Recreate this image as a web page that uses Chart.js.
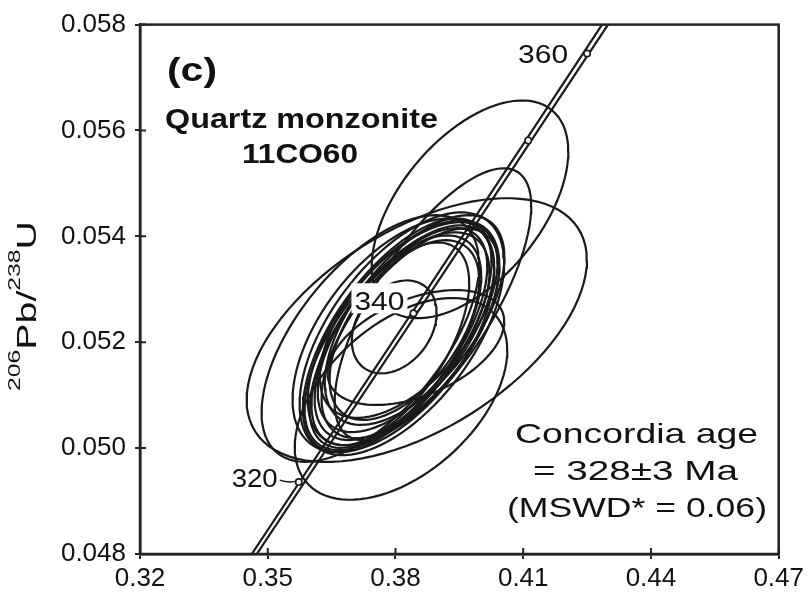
<!DOCTYPE html>
<html>
<head>
<meta charset="utf-8">
<script src="https://cdn.jsdelivr.net/npm/chart.js@4.4.1/dist/chart.umd.min.js"></script>
<style>
  html, body { margin: 0; padding: 0; background: #fff; }
</style>
</head>
<body>
<canvas id="concordia" width="808" height="597"></canvas>
<script>
// axis ticks
const xTicks = [0.32, 0.35, 0.38, 0.41, 0.44, 0.47];
const yTicks = [0.048, 0.050, 0.052, 0.054, 0.056, 0.058];

// error ellipses (207Pb/235U, 206Pb/238U): centre, half widths, correlation
const ellX   = [0.3975, 0.3850, 0.3813, 0.3888, 0.3797, 0.3741, 0.3795, 0.3848, 0.3815, 0.3819, 0.3821, 0.3819, 0.3794, 0.3845, 0.3788, 0.3831, 0.3807, 0.3821, 0.3804, 0.3835];
const ellY   = [0.05451, 0.05223, 0.05093, 0.05272, 0.05229, 0.05207, 0.05213, 0.05190, 0.05216, 0.05218, 0.05218, 0.05219, 0.05199, 0.05242, 0.05197, 0.05242, 0.05208, 0.05223, 0.05213, 0.05217];
const ellSx  = [0.02309, 0.03996, 0.02496, 0.02309, 0.00996, 0.02555, 0.02367, 0.02074, 0.02402, 0.02250, 0.02109, 0.02016, 0.02074, 0.02109, 0.01852, 0.02086, 0.02086, 0.01758, 0.02215, 0.02086];
const ellSy  = [0.002057, 0.002491, 0.001906, 0.002566, 0.000877, 0.002330, 0.002208, 0.001085, 0.002293, 0.002123, 0.002028, 0.001887, 0.002028, 0.001981, 0.001915, 0.001849, 0.002076, 0.001698, 0.002208, 0.001981];
const ellRho = [0.53, 0.53, 0.48, 0.72, 0.30, 0.60, 0.55, 0.45, 0.58, 0.60, 0.62, 0.60, 0.62, 0.60, 0.60, 0.58, 0.65, 0.55, 0.63, 0.62];

// concordia band edges
const bandLowX  = [0.34625, 0.38750, 0.42852];
const bandLowY  = [0.048, 0.053, 0.058];
const bandHighX = [0.34742, 0.38875, 0.42992];
const bandHighY = [0.048, 0.053, 0.058];

// age marks on the concordia
const ageText = ['320', '340', '', '360'];
const ageX = [0.35727, 0.38422, 0.41117, 0.42500];
const ageY = [0.049358, 0.052547, 0.055811, 0.057453];

const FONT = '"Liberation Sans", Arial, Helvetica, sans-serif';
const INK = '#1a1a1a';

function ellipsePoints(i) {
  const pts = [];
  const n = 96;
  const q = Math.sqrt(1 - ellRho[i] * ellRho[i]);
  for (let k = 0; k <= n; k++) {
    const t = k / n * Math.PI * 2;
    pts.push({
      x: ellX[i] + ellSx[i] * Math.cos(t),
      y: ellY[i] + ellSy[i] * (ellRho[i] * Math.cos(t) + q * Math.sin(t))
    });
  }
  return pts;
}

const datasets = [];
datasets.push({
  data: ageX.map((x, i) => ({ x: x, y: ageY[i] })),
  showLine: false,
  pointRadius: 3.2,
  pointBackgroundColor: '#fff',
  pointBorderColor: INK,
  pointBorderWidth: 1.6,
  order: 0
});
datasets.push({
  data: bandLowX.map((x, i) => ({ x: x, y: bandLowY[i] })),
  showLine: true, pointRadius: 0, borderColor: INK, borderWidth: 2.2, order: 1
});
datasets.push({
  data: bandHighX.map((x, i) => ({ x: x, y: bandHighY[i] })),
  showLine: true, pointRadius: 0, borderColor: INK, borderWidth: 2.2, order: 1
});
for (let i = 0; i < ellX.length; i++) {
  datasets.push({
    data: ellipsePoints(i),
    showLine: true, pointRadius: 0, borderColor: INK, borderWidth: 2.2, order: 2
  });
}

// text squeezed/stretched to the width it has in the figure
function fitText(ctx, text, x, y, font, width, align) {
  ctx.save();
  ctx.font = font;
  const k = width / ctx.measureText(text).width;
  ctx.translate(x, y);
  ctx.scale(k, 1);
  ctx.textAlign = align;
  ctx.textBaseline = 'alphabetic';
  ctx.fillStyle = '#111';
  ctx.fillText(text, 0, 0);
  ctx.restore();
}

const decor = {
  id: 'decor',
  afterDatasetsDraw(chart) {
    const ctx = chart.ctx;
    const xs = chart.scales.x, ys = chart.scales.y;
    const px = ageX.map(v => xs.getPixelForValue(v));
    const py = ageY.map(v => ys.getPixelForValue(v));

    // age labels
    ctx.save();
    ctx.fillStyle = '#fff';
    ctx.fillRect(px[1] - 62, py[1] - 30, 56, 30);
    ctx.restore();
    fitText(ctx, ageText[1], px[1] - 9, py[1] - 3, '26px ' + FONT, 50, 'right');
    fitText(ctx, ageText[3], px[3] - 19, py[3] + 9, '26px ' + FONT, 50, 'right');
    fitText(ctx, ageText[0], px[0] - 21, py[0] + 5, '26px ' + FONT, 46, 'right');
    ctx.save();
    ctx.strokeStyle = INK;
    ctx.lineWidth = 1.5;
    ctx.beginPath();
    ctx.moveTo(px[0] - 19, py[0] - 2);
    ctx.quadraticCurveTo(px[0] - 10, py[0] + 1, px[0] - 2, py[0] - 1);
    ctx.stroke();
    ctx.restore();

    // panel label and sample
    fitText(ctx, '(c)', 167, 81, 'bold 33px ' + FONT, 50, 'left');
    fitText(ctx, 'Quartz monzonite', 301.5, 128, 'bold 28px ' + FONT, 273, 'center');
    fitText(ctx, '11CO60', 300, 163, 'bold 28px ' + FONT, 116, 'center');

    // result
    fitText(ctx, 'Concordia age', 636.5, 443, '28px ' + FONT, 243, 'center');
    fitText(ctx, '= 328\u00b13 Ma', 635.5, 480, '28px ' + FONT, 205, 'center');
    fitText(ctx, '(MSWD* = 0.06)', 637, 517, '28px ' + FONT, 260, 'center');

    // y axis title, rotated, with superscript masses
    const parts = [['206', 17, -16], ['Pb/', 27, 0], ['238', 17, -16], ['U', 27, 0]];
    ctx.save();
    let total = 0;
    parts.forEach(p => { ctx.font = p[1] + 'px ' + FONT; total += ctx.measureText(p[0]).width; });
    const k = 170 / total;
    ctx.translate(36, 306);
    ctx.rotate(-Math.PI / 2);
    ctx.scale(k, 1);
    ctx.fillStyle = '#111';
    ctx.textBaseline = 'alphabetic';
    let pos = -total / 2;
    parts.forEach(p => {
      ctx.font = p[1] + 'px ' + FONT;
      ctx.fillText(p[0], pos, p[2]);
      pos += ctx.measureText(p[0]).width;
    });
    ctx.restore();
  },
  afterDraw(chart) {
    const ctx = chart.ctx;
    const a = chart.chartArea;
    ctx.save();
    ctx.strokeStyle = '#222';
    ctx.lineWidth = 2.5;
    ctx.strokeRect(a.left, a.top, a.right - a.left, a.bottom - a.top);
    ctx.lineWidth = 2;
    ctx.beginPath();
    xTicks.forEach(v => {
      const x = chart.scales.x.getPixelForValue(v);
      ctx.moveTo(x, a.bottom);
      ctx.lineTo(x, a.bottom - 6);
    });
    yTicks.forEach(v => {
      const y = chart.scales.y.getPixelForValue(v);
      ctx.moveTo(a.left, y);
      ctx.lineTo(a.left + 6, y);
    });
    ctx.stroke();
    ctx.restore();
  }
};

new Chart(document.getElementById('concordia'), {
  type: 'scatter',
  data: { datasets: datasets },
  options: {
    responsive: false,
    animation: false,
    layout: { padding: { left: 0, right: 29, top: 24, bottom: 0 } },
    plugins: { legend: { display: false }, tooltip: { enabled: false } },
    scales: {
      x: {
        type: 'linear', min: 0.32, max: 0.47,
        afterBuildTicks: s => { s.ticks = xTicks.map(v => ({ value: v })); },
        afterFit: s => { s.height = 43; },
        ticks: {
          callback: v => v.toFixed(2),
          font: { family: FONT, size: 26 }, color: '#111',
          padding: 4, maxRotation: 0, autoSkip: false
        },
        grid: { drawOnChartArea: false, tickLength: 5, color: '#222', lineWidth: 2 },
        border: { color: '#222', width: 2.5 }
      },
      y: {
        type: 'linear', min: 0.048, max: 0.058,
        afterBuildTicks: s => { s.ticks = yTicks.map(v => ({ value: v })); },
        afterFit: s => { s.width = 140; },
        ticks: {
          callback: v => v.toFixed(3),
          font: { family: FONT, size: 26 }, color: '#111',
          padding: 9, autoSkip: false
        },
        grid: { drawOnChartArea: false, tickLength: 5, color: '#222', lineWidth: 2 },
        border: { color: '#222', width: 2.5 }
      }
    }
  },
  plugins: [decor]
});
</script>
</body>
</html>
